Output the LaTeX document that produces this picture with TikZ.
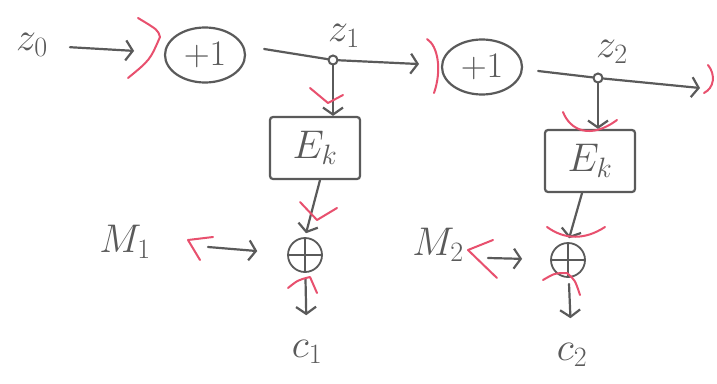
\RequirePackage{fix-cm}
\documentclass[tikz,border=0pt]{standalone}
\usetikzlibrary{arrows.meta,shapes.geometric,calc}
\definecolor{pen}{HTML}{5A5A5A}
\definecolor{redpen}{HTML}{E8506E}
\tikzset{
  lbl/.style={text=pen,font=\fontsize{40}{42}\selectfont,inner sep=0pt},
  ell/.style={ellipse,draw=pen,line width=2.2pt,minimum width=80pt,minimum height=55pt,inner sep=0pt,text=pen,font=\fontsize{36}{38}\selectfont},
  ebox/.style={rectangle,rounded corners=3pt,draw=pen,line width=2.2pt,minimum width=90pt,minimum height=62pt,inner sep=0pt,text=pen,font=\fontsize{40}{42}\selectfont},
  xor/.style={circle,draw=pen,line width=1.8pt,minimum size=34pt,inner sep=0pt,
    path picture={\draw[pen,line width=1.8pt] (path picture bounding box.north) -- (path picture bounding box.south)
      (path picture bounding box.west) -- (path picture bounding box.east);}},
  dot/.style={circle,draw=pen,line width=2pt,minimum size=9pt,inner sep=0pt},
  conn/.style={draw=pen,line width=2.2pt,line cap=round,-{Straight Barb[length=7pt,width=20pt,line width=2.2pt]}},
  plain/.style={draw=pen,line width=2.2pt,line cap=round},
  redmark/.style={draw=redpen,line width=2pt,line cap=round,line join=round},
}
\begin{document}
\begin{tikzpicture}[x=1pt,y=-1pt]
\useasboundingbox (0,0) rectangle (717,383);
\fill[white] (0,0) rectangle (717,383);
% nodes
\node[lbl] (z0) at (32,45) {$z_0$};
\node[ell] (inc1) at (205,55) {$+1$};
\node[dot] (j1) at (333,60) {};
\node[lbl] (z1) at (344,36) {$z_1$};
\node[ell] (inc2) at (482,67) {$+1$};
\node[dot] (j2) at (598,78) {};
\node[lbl] (z2) at (612,52) {$z_2$};
\coordinate (out) at (700,88);
\node[ebox] (E1) at (315,148) {$E_k$};
\node[ebox] (E2) at (590,161) {$E_k$};
\node[xor] (x1) at (305,255) {};
\node[xor] (x2) at (568,260) {};
\node[lbl] (M1) at (125,242) {$M_1$};
\node[lbl] (M2) at (438,245) {$M_2$};
\node[lbl] (c1) at (307,352) {$c_1$};
\node[lbl] (c2) at (572,355) {$c_2$};
\coordinate (m1s) at (208,247);
\coordinate (m2s) at (488,258);
% connectors
\draw[conn,shorten <=22pt,shorten >=30pt] (z0) -- (inc1);
\draw[plain] (inc1.east) ++(18,-6) -- (j1);
\draw[conn,shorten >=22pt] (j1) -- (inc2);
\draw[plain] (inc2.east) ++(15,4) -- (j2);
\draw[conn] (j2) -- (out);
\draw[conn] (j1) -- (E1.north -| j1);
\draw[conn] (j2) -- (E2.north -| j2);
\draw[conn,shorten >=4pt] (E1.south) ++(5,0) -- (x1.north);
\draw[conn,shorten >=4pt] (E2.south) ++(-8,0) -- (x2.north);
\draw[conn,shorten >=30pt] (m1s) -- (x1);
\draw[conn,shorten >=28pt] (m2s) -- (x2);
\draw[conn,shorten <=6pt,shorten >=25pt] (x1) -- (c1);
\draw[conn,shorten <=6pt,shorten >=25pt] (x2) -- (c2);
% red marks
\draw[redmark] (138,18) .. controls (158,30) .. (160,37) .. controls (150,60) .. (128,78);
\draw[redmark] (427,39) .. controls (438,46) and (442,70) .. (434,93);
\draw[redmark] (708,65) .. controls (716,75) and (714,88) .. (704,93);
\draw[redmark] (310,88) -- (328,103) -- (343,95);
\draw[redmark] (563,112) .. controls (570,130) and (590,140) .. (617,120);
\draw[redmark] (300,202) -- (317,220) -- (337,208);
\draw[redmark] (288,288) .. controls (298,280) .. (310,277) -- (317,293);
\draw[redmark] (213,237) -- (188,240) -- (200,260);
\draw[redmark] (547,227) .. controls (565,240) and (585,240) .. (605,227);
\draw[redmark] (543,280) .. controls (555,273) .. (567,273) .. controls (575,280) .. (580,295);
\draw[redmark] (493,240) -- (468,250) -- (497,278);
\end{tikzpicture}
\end{document}
